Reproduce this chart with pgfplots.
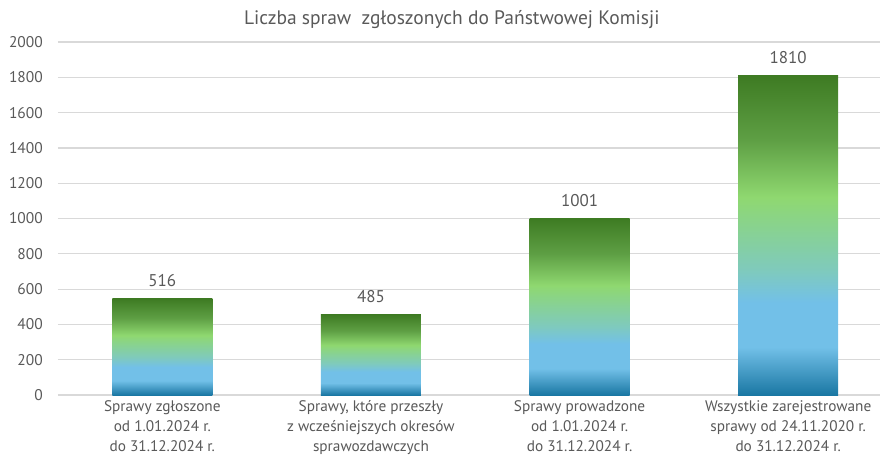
\documentclass[border=0pt]{standalone}
\usepackage{fontspec}
\setmainfont{PT Sans}
\usepackage{pgfplots}
\pgfplotsset{compat=1.18}

\definecolor{txt}{HTML}{595959}
\definecolor{gridgray}{HTML}{D9D9D9}
\definecolor{g0}{HTML}{1A77A3}
\definecolor{g1}{HTML}{72C0E8}
\definecolor{g2}{HTML}{7FCABD}
\definecolor{g3}{HTML}{8FD870}
\definecolor{g4}{HTML}{5E9F44}
\definecolor{g5}{HTML}{3E7B23}

% bar gradient, bottom to top (inner 25bp..75bp is fitted to each bar)
\pgfdeclareverticalshading{barshade}{100bp}{%
  color(0bp)=(g0); color(25bp)=(g0); color(32.5bp)=(g1); color(39.5bp)=(g1);
  color(44.5bp)=(g2); color(56bp)=(g3); color(65bp)=(g4); color(75bp)=(g5);
  color(100bp)=(g5)}

\begin{document}
\begin{tikzpicture}
\begin{axis}[
    scale only axis,
    width=822pt, height=353pt,
    xmin=-0.5, xmax=3.44,
    ymin=0, ymax=2000,
    ytick={0,200,...,2000},
    xtick={0,1,2,3},
    xticklabels={
      {Sprawy zgłoszone\\od 1.01.2024 r.\\ do 31.12.2024 r.},
      {Sprawy, które przeszły\\z wcześniejszych okresów\\sprawozdawczych},
      {Sprawy prowadzone\\od 1.01.2024 r.\\ do 31.12.2024 r.},
      {Wszystkie zarejestrowane\\sprawy od 24.11.2020 r.\\ do 31.12.2024 r.}},
    axis line style={draw=none},
    major tick length=0pt,
    tick style={draw=none},
    xmajorgrids=false,
    ymajorgrids=true,
    major grid style={draw=gridgray, line width=1.2pt},
    /pgf/number format/assume math mode=true,
    /pgf/number format/1000 sep={},
    scaled y ticks=false,
    yticklabel style={font=\fontsize{15.5}{18}\selectfont, text=txt, inner sep=0pt, xshift=-15pt},
    xticklabel style={font=\fontsize{15.3}{20}\selectfont, text=txt, align=center, inner sep=0pt, anchor=north, yshift=-5pt},
    title={Liczba spraw\ \ zgłoszonych do Państwowej Komisji},
    title style={font=\fontsize{19.5}{22}\selectfont, text=txt, at={(0.479,1)}, anchor=base, yshift=11pt},
    ybar, bar width=100pt, bar shift=0pt,
    nodes near coords,
    point meta=explicit symbolic,
    every node near coord/.append style={font=\fontsize{17}{20}\selectfont, text=txt, anchor=base, inner sep=0pt, yshift=12pt},
    clip=false,
]
% one plot per bar, so that the gradient is fitted to each bar
\addplot[draw=none, shading=barshade] table[meta=label] {
x y    label
0 545  516
};
\addplot[draw=none, shading=barshade] table[meta=label] {
x y    label
1 455  485
};
\addplot[draw=none, shading=barshade] table[meta=label] {
x y    label
2 1000 1001
};
\addplot[draw=none, shading=barshade] table[meta=label] {
x y    label
3 1808 1810
};
\end{axis}
\pgfresetboundingbox
\path[use as bounding box] (-58pt,-66pt) rectangle (822pt,395pt);
\end{tikzpicture}
\end{document}
